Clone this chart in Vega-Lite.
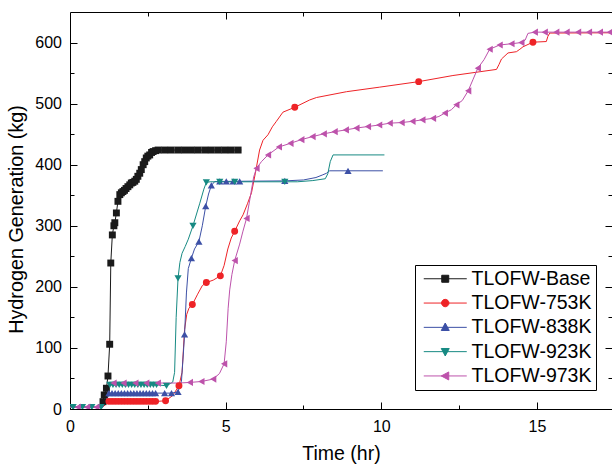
{
  "$schema": "https://vega.github.io/schema/vega-lite/v6.json",
  "width": 542,
  "height": 397,
  "autosize": {"type": "none"},
  "padding": {"left": 70, "top": 12, "right": 0, "bottom": 56},
  "background": "white",
  "config": {
    "view": {"stroke": null},
    "font": "Liberation Sans",
    "axis": {"grid": false, "domainColor": "black", "tickColor": "black", "labelColor": "black", "titleColor": "black", "labelFont": "Liberation Sans", "titleFont": "Liberation Sans", "titleFontWeight": "normal", "domainWidth": 1, "tickWidth": 1}
  },
  "datasets": {
    "curves": [
      {"series": "TLOFW-Base", "time": 0, "h2": 3}, {"series": "TLOFW-Base", "time": 1.0, "h2": 3}, {"series": "TLOFW-Base", "time": 1.06, "h2": 12}, {"series": "TLOFW-Base", "time": 1.1, "h2": 23}, {"series": "TLOFW-Base", "time": 1.17, "h2": 34}, {"series": "TLOFW-Base", "time": 1.22, "h2": 54}, {"series": "TLOFW-Base", "time": 1.275, "h2": 106}, {"series": "TLOFW-Base", "time": 1.31, "h2": 239}, {"series": "TLOFW-Base", "time": 1.36, "h2": 285}, {"series": "TLOFW-Base", "time": 1.41, "h2": 300}, {"series": "TLOFW-Base", "time": 1.44, "h2": 305}, {"series": "TLOFW-Base", "time": 1.49, "h2": 321}, {"series": "TLOFW-Base", "time": 1.54, "h2": 340}, {"series": "TLOFW-Base", "time": 1.6, "h2": 351}, {"series": "TLOFW-Base", "time": 1.7, "h2": 356}, {"series": "TLOFW-Base", "time": 1.86, "h2": 364}, {"series": "TLOFW-Base", "time": 1.97, "h2": 370}, {"series": "TLOFW-Base", "time": 2.08, "h2": 373}, {"series": "TLOFW-Base", "time": 2.18, "h2": 381}, {"series": "TLOFW-Base", "time": 2.29, "h2": 392}, {"series": "TLOFW-Base", "time": 2.35, "h2": 400}, {"series": "TLOFW-Base", "time": 2.45, "h2": 411}, {"series": "TLOFW-Base", "time": 2.56, "h2": 416}, {"series": "TLOFW-Base", "time": 2.67, "h2": 421.5}, {"series": "TLOFW-Base", "time": 2.83, "h2": 424}, {"series": "TLOFW-Base", "time": 5.5, "h2": 424},
      {"series": "TLOFW-753K", "time": 0, "h2": 3}, {"series": "TLOFW-753K", "time": 1.05, "h2": 3}, {"series": "TLOFW-753K", "time": 1.2, "h2": 10}, {"series": "TLOFW-753K", "time": 1.28, "h2": 12.5}, {"series": "TLOFW-753K", "time": 2.8, "h2": 12.5}, {"series": "TLOFW-753K", "time": 3.07, "h2": 13.5}, {"series": "TLOFW-753K", "time": 3.3, "h2": 22}, {"series": "TLOFW-753K", "time": 3.5, "h2": 38}, {"series": "TLOFW-753K", "time": 3.6, "h2": 60}, {"series": "TLOFW-753K", "time": 3.68, "h2": 130}, {"series": "TLOFW-753K", "time": 3.75, "h2": 155}, {"series": "TLOFW-753K", "time": 3.82, "h2": 165}, {"series": "TLOFW-753K", "time": 3.93, "h2": 171}, {"series": "TLOFW-753K", "time": 4.1, "h2": 188}, {"series": "TLOFW-753K", "time": 4.25, "h2": 202}, {"series": "TLOFW-753K", "time": 4.38, "h2": 207}, {"series": "TLOFW-753K", "time": 4.6, "h2": 211}, {"series": "TLOFW-753K", "time": 4.83, "h2": 218}, {"series": "TLOFW-753K", "time": 4.95, "h2": 235}, {"series": "TLOFW-753K", "time": 5.07, "h2": 262}, {"series": "TLOFW-753K", "time": 5.18, "h2": 280}, {"series": "TLOFW-753K", "time": 5.29, "h2": 291}, {"series": "TLOFW-753K", "time": 5.45, "h2": 308}, {"series": "TLOFW-753K", "time": 5.56, "h2": 318}, {"series": "TLOFW-753K", "time": 5.7, "h2": 336}, {"series": "TLOFW-753K", "time": 5.83, "h2": 354}, {"series": "TLOFW-753K", "time": 5.95, "h2": 385}, {"series": "TLOFW-753K", "time": 6.09, "h2": 424}, {"series": "TLOFW-753K", "time": 6.2, "h2": 440}, {"series": "TLOFW-753K", "time": 6.36, "h2": 449}, {"series": "TLOFW-753K", "time": 6.5, "h2": 462}, {"series": "TLOFW-753K", "time": 6.63, "h2": 471}, {"series": "TLOFW-753K", "time": 6.84, "h2": 486}, {"series": "TLOFW-753K", "time": 7.22, "h2": 494}, {"series": "TLOFW-753K", "time": 7.7, "h2": 506}, {"series": "TLOFW-753K", "time": 7.92, "h2": 510}, {"series": "TLOFW-753K", "time": 8.88, "h2": 519.5}, {"series": "TLOFW-753K", "time": 9.95, "h2": 527}, {"series": "TLOFW-753K", "time": 11.2, "h2": 536}, {"series": "TLOFW-753K", "time": 12.3, "h2": 546}, {"series": "TLOFW-753K", "time": 13.7, "h2": 556}, {"series": "TLOFW-753K", "time": 13.78, "h2": 564}, {"series": "TLOFW-753K", "time": 13.86, "h2": 573}, {"series": "TLOFW-753K", "time": 14.07, "h2": 583}, {"series": "TLOFW-753K", "time": 14.34, "h2": 585}, {"series": "TLOFW-753K", "time": 14.45, "h2": 589}, {"series": "TLOFW-753K", "time": 14.55, "h2": 593}, {"series": "TLOFW-753K", "time": 14.87, "h2": 600.6}, {"series": "TLOFW-753K", "time": 15.3, "h2": 601.6}, {"series": "TLOFW-753K", "time": 15.35, "h2": 610}, {"series": "TLOFW-753K", "time": 15.41, "h2": 615.5}, {"series": "TLOFW-753K", "time": 17.41, "h2": 616},
      {"series": "TLOFW-838K", "time": 0, "h2": 3}, {"series": "TLOFW-838K", "time": 1.05, "h2": 3}, {"series": "TLOFW-838K", "time": 1.2, "h2": 18}, {"series": "TLOFW-838K", "time": 1.28, "h2": 26}, {"series": "TLOFW-838K", "time": 3.26, "h2": 26}, {"series": "TLOFW-838K", "time": 3.47, "h2": 28}, {"series": "TLOFW-838K", "time": 3.58, "h2": 45}, {"series": "TLOFW-838K", "time": 3.64, "h2": 90}, {"series": "TLOFW-838K", "time": 3.68, "h2": 122}, {"series": "TLOFW-838K", "time": 3.74, "h2": 190}, {"series": "TLOFW-838K", "time": 3.8, "h2": 230}, {"series": "TLOFW-838K", "time": 3.9, "h2": 247}, {"series": "TLOFW-838K", "time": 4.0, "h2": 262}, {"series": "TLOFW-838K", "time": 4.14, "h2": 274}, {"series": "TLOFW-838K", "time": 4.25, "h2": 300}, {"series": "TLOFW-838K", "time": 4.36, "h2": 332}, {"series": "TLOFW-838K", "time": 4.45, "h2": 352}, {"series": "TLOFW-838K", "time": 4.54, "h2": 366}, {"series": "TLOFW-838K", "time": 4.65, "h2": 372.5}, {"series": "TLOFW-838K", "time": 6.9, "h2": 373.5}, {"series": "TLOFW-838K", "time": 7.5, "h2": 375}, {"series": "TLOFW-838K", "time": 7.9, "h2": 379}, {"series": "TLOFW-838K", "time": 8.1, "h2": 383}, {"series": "TLOFW-838K", "time": 8.24, "h2": 386}, {"series": "TLOFW-838K", "time": 8.34, "h2": 390}, {"series": "TLOFW-838K", "time": 10.05, "h2": 390},
      {"series": "TLOFW-923K", "time": 0, "h2": 3}, {"series": "TLOFW-923K", "time": 1.05, "h2": 3}, {"series": "TLOFW-923K", "time": 1.2, "h2": 30}, {"series": "TLOFW-923K", "time": 1.28, "h2": 39.5}, {"series": "TLOFW-923K", "time": 2.8, "h2": 39.5}, {"series": "TLOFW-923K", "time": 3.1, "h2": 38}, {"series": "TLOFW-923K", "time": 3.3, "h2": 44}, {"series": "TLOFW-923K", "time": 3.36, "h2": 60}, {"series": "TLOFW-923K", "time": 3.41, "h2": 150}, {"series": "TLOFW-923K", "time": 3.47, "h2": 214}, {"series": "TLOFW-923K", "time": 3.53, "h2": 240}, {"series": "TLOFW-923K", "time": 3.6, "h2": 255}, {"series": "TLOFW-923K", "time": 3.7, "h2": 266}, {"series": "TLOFW-923K", "time": 3.8, "h2": 278}, {"series": "TLOFW-923K", "time": 3.95, "h2": 300}, {"series": "TLOFW-923K", "time": 4.17, "h2": 337}, {"series": "TLOFW-923K", "time": 4.3, "h2": 360}, {"series": "TLOFW-923K", "time": 4.38, "h2": 371}, {"series": "TLOFW-923K", "time": 4.5, "h2": 372}, {"series": "TLOFW-923K", "time": 7.3, "h2": 372}, {"series": "TLOFW-923K", "time": 7.8, "h2": 374}, {"series": "TLOFW-923K", "time": 8.2, "h2": 377}, {"series": "TLOFW-923K", "time": 8.28, "h2": 385}, {"series": "TLOFW-923K", "time": 8.36, "h2": 405}, {"series": "TLOFW-923K", "time": 8.45, "h2": 416}, {"series": "TLOFW-923K", "time": 10.1, "h2": 416},
      {"series": "TLOFW-973K", "time": 0, "h2": 3}, {"series": "TLOFW-973K", "time": 1.05, "h2": 3}, {"series": "TLOFW-973K", "time": 1.2, "h2": 32}, {"series": "TLOFW-973K", "time": 1.3, "h2": 42.5}, {"series": "TLOFW-973K", "time": 3.5, "h2": 42.5}, {"series": "TLOFW-973K", "time": 3.85, "h2": 43.5}, {"series": "TLOFW-973K", "time": 4.22, "h2": 45}, {"series": "TLOFW-973K", "time": 4.6, "h2": 49}, {"series": "TLOFW-973K", "time": 4.8, "h2": 58}, {"series": "TLOFW-973K", "time": 4.95, "h2": 74}, {"series": "TLOFW-973K", "time": 5.02, "h2": 110}, {"series": "TLOFW-973K", "time": 5.08, "h2": 165}, {"series": "TLOFW-973K", "time": 5.13, "h2": 195}, {"series": "TLOFW-973K", "time": 5.2, "h2": 220}, {"series": "TLOFW-973K", "time": 5.29, "h2": 243}, {"series": "TLOFW-973K", "time": 5.45, "h2": 270}, {"series": "TLOFW-973K", "time": 5.55, "h2": 290}, {"series": "TLOFW-973K", "time": 5.67, "h2": 312}, {"series": "TLOFW-973K", "time": 5.8, "h2": 350}, {"series": "TLOFW-973K", "time": 5.9, "h2": 380}, {"series": "TLOFW-973K", "time": 5.99, "h2": 394}, {"series": "TLOFW-973K", "time": 6.15, "h2": 405}, {"series": "TLOFW-973K", "time": 6.36, "h2": 416}, {"series": "TLOFW-973K", "time": 6.71, "h2": 429}, {"series": "TLOFW-973K", "time": 7.08, "h2": 435}, {"series": "TLOFW-973K", "time": 7.43, "h2": 441}, {"series": "TLOFW-973K", "time": 7.79, "h2": 446}, {"series": "TLOFW-973K", "time": 8.15, "h2": 450.5}, {"series": "TLOFW-973K", "time": 8.5, "h2": 454}, {"series": "TLOFW-973K", "time": 8.86, "h2": 457}, {"series": "TLOFW-973K", "time": 9.2, "h2": 460}, {"series": "TLOFW-973K", "time": 9.57, "h2": 462.5}, {"series": "TLOFW-973K", "time": 9.93, "h2": 465}, {"series": "TLOFW-973K", "time": 10.27, "h2": 468}, {"series": "TLOFW-973K", "time": 10.65, "h2": 469}, {"series": "TLOFW-973K", "time": 11.0, "h2": 471}, {"series": "TLOFW-973K", "time": 11.32, "h2": 473.5}, {"series": "TLOFW-973K", "time": 11.66, "h2": 476}, {"series": "TLOFW-973K", "time": 11.85, "h2": 479}, {"series": "TLOFW-973K", "time": 12.04, "h2": 484.5}, {"series": "TLOFW-973K", "time": 12.25, "h2": 490}, {"series": "TLOFW-973K", "time": 12.41, "h2": 498}, {"series": "TLOFW-973K", "time": 12.6, "h2": 505}, {"series": "TLOFW-973K", "time": 12.79, "h2": 521}, {"series": "TLOFW-973K", "time": 12.95, "h2": 540}, {"series": "TLOFW-973K", "time": 13.1, "h2": 558}, {"series": "TLOFW-973K", "time": 13.3, "h2": 572}, {"series": "TLOFW-973K", "time": 13.48, "h2": 589}, {"series": "TLOFW-973K", "time": 13.8, "h2": 596}, {"series": "TLOFW-973K", "time": 14.18, "h2": 598}, {"series": "TLOFW-973K", "time": 14.5, "h2": 600}, {"series": "TLOFW-973K", "time": 14.62, "h2": 604}, {"series": "TLOFW-973K", "time": 14.71, "h2": 615}, {"series": "TLOFW-973K", "time": 14.93, "h2": 617}, {"series": "TLOFW-973K", "time": 17.41, "h2": 617}
    ],
    "markers": [
      {"series": "TLOFW-Base", "time": 1.06, "h2": 12}, {"series": "TLOFW-Base", "time": 1.1, "h2": 23}, {"series": "TLOFW-Base", "time": 1.17, "h2": 34}, {"series": "TLOFW-Base", "time": 1.22, "h2": 54}, {"series": "TLOFW-Base", "time": 1.275, "h2": 106}, {"series": "TLOFW-Base", "time": 1.31, "h2": 239}, {"series": "TLOFW-Base", "time": 1.36, "h2": 285}, {"series": "TLOFW-Base", "time": 1.41, "h2": 300}, {"series": "TLOFW-Base", "time": 1.44, "h2": 305}, {"series": "TLOFW-Base", "time": 1.49, "h2": 321}, {"series": "TLOFW-Base", "time": 1.54, "h2": 340}, {"series": "TLOFW-Base", "time": 1.6, "h2": 351}, {"series": "TLOFW-Base", "time": 1.65, "h2": 354}, {"series": "TLOFW-Base", "time": 1.7, "h2": 356}, {"series": "TLOFW-Base", "time": 1.75, "h2": 358}, {"series": "TLOFW-Base", "time": 1.8, "h2": 361}, {"series": "TLOFW-Base", "time": 1.86, "h2": 364}, {"series": "TLOFW-Base", "time": 1.92, "h2": 367}, {"series": "TLOFW-Base", "time": 1.97, "h2": 370}, {"series": "TLOFW-Base", "time": 2.02, "h2": 371}, {"series": "TLOFW-Base", "time": 2.08, "h2": 373}, {"series": "TLOFW-Base", "time": 2.13, "h2": 376}, {"series": "TLOFW-Base", "time": 2.18, "h2": 381}, {"series": "TLOFW-Base", "time": 2.24, "h2": 386}, {"series": "TLOFW-Base", "time": 2.29, "h2": 392}, {"series": "TLOFW-Base", "time": 2.35, "h2": 400}, {"series": "TLOFW-Base", "time": 2.4, "h2": 405}, {"series": "TLOFW-Base", "time": 2.45, "h2": 411}, {"series": "TLOFW-Base", "time": 2.5, "h2": 414}, {"series": "TLOFW-Base", "time": 2.56, "h2": 416}, {"series": "TLOFW-Base", "time": 2.62, "h2": 420}, {"series": "TLOFW-Base", "time": 2.67, "h2": 421.5}, {"series": "TLOFW-Base", "time": 2.75, "h2": 423}, {"series": "TLOFW-Base", "time": 2.83, "h2": 424}, {"series": "TLOFW-Base", "time": 3.04, "h2": 424}, {"series": "TLOFW-Base", "time": 3.25, "h2": 424}, {"series": "TLOFW-Base", "time": 3.47, "h2": 424}, {"series": "TLOFW-Base", "time": 3.68, "h2": 424}, {"series": "TLOFW-Base", "time": 3.9, "h2": 424}, {"series": "TLOFW-Base", "time": 4.11, "h2": 424}, {"series": "TLOFW-Base", "time": 4.33, "h2": 424}, {"series": "TLOFW-Base", "time": 4.54, "h2": 424}, {"series": "TLOFW-Base", "time": 4.76, "h2": 424}, {"series": "TLOFW-Base", "time": 4.97, "h2": 424}, {"series": "TLOFW-Base", "time": 5.18, "h2": 424}, {"series": "TLOFW-Base", "time": 5.4, "h2": 424},
      {"series": "TLOFW-753K", "time": 1.25, "h2": 12.5}, {"series": "TLOFW-753K", "time": 1.35, "h2": 12.5}, {"series": "TLOFW-753K", "time": 1.45, "h2": 12.5}, {"series": "TLOFW-753K", "time": 1.55, "h2": 12.5}, {"series": "TLOFW-753K", "time": 1.65, "h2": 12.5}, {"series": "TLOFW-753K", "time": 1.75, "h2": 12.5}, {"series": "TLOFW-753K", "time": 1.85, "h2": 12.5}, {"series": "TLOFW-753K", "time": 1.95, "h2": 12.5}, {"series": "TLOFW-753K", "time": 2.05, "h2": 12.5}, {"series": "TLOFW-753K", "time": 2.15, "h2": 12.5}, {"series": "TLOFW-753K", "time": 2.25, "h2": 12.5}, {"series": "TLOFW-753K", "time": 2.35, "h2": 12.5}, {"series": "TLOFW-753K", "time": 2.45, "h2": 12.5}, {"series": "TLOFW-753K", "time": 2.55, "h2": 12.5}, {"series": "TLOFW-753K", "time": 2.65, "h2": 12.5}, {"series": "TLOFW-753K", "time": 2.75, "h2": 12.5}, {"series": "TLOFW-753K", "time": 3.07, "h2": 13.5}, {"series": "TLOFW-753K", "time": 3.5, "h2": 38}, {"series": "TLOFW-753K", "time": 3.93, "h2": 171}, {"series": "TLOFW-753K", "time": 4.38, "h2": 207}, {"series": "TLOFW-753K", "time": 4.83, "h2": 218}, {"series": "TLOFW-753K", "time": 5.29, "h2": 291}, {"series": "TLOFW-753K", "time": 7.22, "h2": 494}, {"series": "TLOFW-753K", "time": 11.2, "h2": 536}, {"series": "TLOFW-753K", "time": 14.87, "h2": 600.6},
      {"series": "TLOFW-838K", "time": 1.25, "h2": 26}, {"series": "TLOFW-838K", "time": 1.35, "h2": 26}, {"series": "TLOFW-838K", "time": 1.45, "h2": 26}, {"series": "TLOFW-838K", "time": 1.55, "h2": 26}, {"series": "TLOFW-838K", "time": 1.65, "h2": 26}, {"series": "TLOFW-838K", "time": 1.75, "h2": 26}, {"series": "TLOFW-838K", "time": 1.85, "h2": 26}, {"series": "TLOFW-838K", "time": 1.95, "h2": 26}, {"series": "TLOFW-838K", "time": 2.05, "h2": 26}, {"series": "TLOFW-838K", "time": 2.15, "h2": 26}, {"series": "TLOFW-838K", "time": 2.25, "h2": 26}, {"series": "TLOFW-838K", "time": 2.35, "h2": 26}, {"series": "TLOFW-838K", "time": 2.45, "h2": 26}, {"series": "TLOFW-838K", "time": 2.55, "h2": 26}, {"series": "TLOFW-838K", "time": 2.65, "h2": 26}, {"series": "TLOFW-838K", "time": 2.75, "h2": 26}, {"series": "TLOFW-838K", "time": 3.04, "h2": 26}, {"series": "TLOFW-838K", "time": 3.26, "h2": 26}, {"series": "TLOFW-838K", "time": 3.47, "h2": 28}, {"series": "TLOFW-838K", "time": 3.68, "h2": 122}, {"series": "TLOFW-838K", "time": 3.9, "h2": 247}, {"series": "TLOFW-838K", "time": 4.14, "h2": 274}, {"series": "TLOFW-838K", "time": 4.36, "h2": 332}, {"series": "TLOFW-838K", "time": 4.54, "h2": 366}, {"series": "TLOFW-838K", "time": 4.81, "h2": 372.5}, {"series": "TLOFW-838K", "time": 5.02, "h2": 372.5}, {"series": "TLOFW-838K", "time": 5.24, "h2": 372.5}, {"series": "TLOFW-838K", "time": 5.45, "h2": 372.5}, {"series": "TLOFW-838K", "time": 6.9, "h2": 373.5}, {"series": "TLOFW-838K", "time": 8.93, "h2": 390},
      {"series": "TLOFW-923K", "time": 0.1, "h2": 3}, {"series": "TLOFW-923K", "time": 0.4, "h2": 3}, {"series": "TLOFW-923K", "time": 0.7, "h2": 3}, {"series": "TLOFW-923K", "time": 1.0, "h2": 3}, {"series": "TLOFW-923K", "time": 1.28, "h2": 39.5}, {"series": "TLOFW-923K", "time": 1.38, "h2": 39.5}, {"series": "TLOFW-923K", "time": 1.48, "h2": 39.5}, {"series": "TLOFW-923K", "time": 1.58, "h2": 39.5}, {"series": "TLOFW-923K", "time": 1.68, "h2": 39.5}, {"series": "TLOFW-923K", "time": 1.78, "h2": 39.5}, {"series": "TLOFW-923K", "time": 1.88, "h2": 39.5}, {"series": "TLOFW-923K", "time": 1.98, "h2": 39.5}, {"series": "TLOFW-923K", "time": 2.08, "h2": 39.5}, {"series": "TLOFW-923K", "time": 2.18, "h2": 39.5}, {"series": "TLOFW-923K", "time": 2.28, "h2": 39.5}, {"series": "TLOFW-923K", "time": 2.38, "h2": 39.5}, {"series": "TLOFW-923K", "time": 2.48, "h2": 39.5}, {"series": "TLOFW-923K", "time": 2.58, "h2": 39.5}, {"series": "TLOFW-923K", "time": 2.68, "h2": 39.5}, {"series": "TLOFW-923K", "time": 2.78, "h2": 39.5}, {"series": "TLOFW-923K", "time": 3.1, "h2": 38}, {"series": "TLOFW-923K", "time": 3.47, "h2": 214}, {"series": "TLOFW-923K", "time": 3.95, "h2": 300}, {"series": "TLOFW-923K", "time": 4.38, "h2": 371}, {"series": "TLOFW-923K", "time": 4.81, "h2": 372}, {"series": "TLOFW-923K", "time": 5.29, "h2": 372}, {"series": "TLOFW-923K", "time": 6.9, "h2": 372},
      {"series": "TLOFW-973K", "time": 0.25, "h2": 3}, {"series": "TLOFW-973K", "time": 0.55, "h2": 3}, {"series": "TLOFW-973K", "time": 0.85, "h2": 3}, {"series": "TLOFW-973K", "time": 1.4, "h2": 42.5}, {"series": "TLOFW-973K", "time": 1.72, "h2": 42.5}, {"series": "TLOFW-973K", "time": 2.1, "h2": 42.5}, {"series": "TLOFW-973K", "time": 2.45, "h2": 42.5}, {"series": "TLOFW-973K", "time": 2.82, "h2": 42.5}, {"series": "TLOFW-973K", "time": 3.85, "h2": 43.5}, {"series": "TLOFW-973K", "time": 4.22, "h2": 45}, {"series": "TLOFW-973K", "time": 4.6, "h2": 49}, {"series": "TLOFW-973K", "time": 4.95, "h2": 74}, {"series": "TLOFW-973K", "time": 5.29, "h2": 243}, {"series": "TLOFW-973K", "time": 5.67, "h2": 312}, {"series": "TLOFW-973K", "time": 5.99, "h2": 394}, {"series": "TLOFW-973K", "time": 6.36, "h2": 416}, {"series": "TLOFW-973K", "time": 6.71, "h2": 429}, {"series": "TLOFW-973K", "time": 7.08, "h2": 435}, {"series": "TLOFW-973K", "time": 7.43, "h2": 441}, {"series": "TLOFW-973K", "time": 7.79, "h2": 446}, {"series": "TLOFW-973K", "time": 8.15, "h2": 450.5}, {"series": "TLOFW-973K", "time": 8.5, "h2": 454}, {"series": "TLOFW-973K", "time": 8.86, "h2": 457}, {"series": "TLOFW-973K", "time": 9.2, "h2": 460}, {"series": "TLOFW-973K", "time": 9.57, "h2": 462.5}, {"series": "TLOFW-973K", "time": 9.93, "h2": 465}, {"series": "TLOFW-973K", "time": 10.27, "h2": 468}, {"series": "TLOFW-973K", "time": 10.65, "h2": 469}, {"series": "TLOFW-973K", "time": 11.0, "h2": 471}, {"series": "TLOFW-973K", "time": 11.32, "h2": 473.5}, {"series": "TLOFW-973K", "time": 11.66, "h2": 476}, {"series": "TLOFW-973K", "time": 12.04, "h2": 484.5}, {"series": "TLOFW-973K", "time": 12.41, "h2": 498}, {"series": "TLOFW-973K", "time": 12.79, "h2": 521}, {"series": "TLOFW-973K", "time": 13.1, "h2": 558}, {"series": "TLOFW-973K", "time": 13.48, "h2": 589}, {"series": "TLOFW-973K", "time": 13.8, "h2": 596}, {"series": "TLOFW-973K", "time": 14.18, "h2": 598}, {"series": "TLOFW-973K", "time": 14.5, "h2": 600}, {"series": "TLOFW-973K", "time": 14.93, "h2": 617}, {"series": "TLOFW-973K", "time": 15.25, "h2": 617}, {"series": "TLOFW-973K", "time": 15.62, "h2": 617}, {"series": "TLOFW-973K", "time": 15.95, "h2": 617}, {"series": "TLOFW-973K", "time": 16.32, "h2": 617}, {"series": "TLOFW-973K", "time": 16.67, "h2": 617}, {"series": "TLOFW-973K", "time": 17.02, "h2": 617}, {"series": "TLOFW-973K", "time": 17.34, "h2": 617}
    ]
  },
  "encoding": {
    "color": {"field": "series", "type": "nominal",
      "scale": {"domain": ["TLOFW-Base", "TLOFW-753K", "TLOFW-838K", "TLOFW-923K", "TLOFW-973K"], "range": ["#1a1a1a", "#ee2327", "#3c50a6", "#178a83", "#bd52ab"]},
      "legend": {"title": null, "orient": "none", "legendX": 345, "legendY": 253, "strokeColor": "black", "fillColor": "white", "padding": 4, "cornerRadius": 0, "labelFontSize": 19.5, "labelColor": "black", "labelFont": "Liberation Sans", "labelLimit": 300, "symbolSize": 196, "labelOffset": 33, "rowPadding": 3.3, "symbolOpacity": 1, "symbolStrokeWidth": 1}
    }
  },
  "layer": [
    {
      "data": {"name": "curves"},
      "mark": {"type": "line", "strokeWidth": 1, "clip": true},
      "encoding": {
        "x": {"field": "time", "type": "quantitative", "scale": {"domain": [0, 17.41], "nice": false, "zero": false},
          "axis": {"orient": "bottom", "values": [0, 2.5, 5, 7.5, 10, 12.5, 15], "labelExpr": "datum.value % 5 === 0 ? format(datum.value, 'd') : ''",
            "tickSize": {"condition": {"test": "datum.value % 5 !== 0", "value": -4}, "value": -7},
            "labelPadding": 16, "labelFontSize": 16, "labelFlush": false, "title": "Time (hr)", "titleFontSize": 19.5, "titleY": 50.5, "titleBaseline": "alphabetic"}},
        "y": {"field": "h2", "type": "quantitative", "scale": {"domain": [0, 650], "nice": false, "zero": false},
          "axis": {"orient": "left", "values": [0, 50, 100, 150, 200, 250, 300, 350, 400, 450, 500, 550, 600], "labelExpr": "datum.value % 100 === 0 ? format(datum.value, 'd') : ''",
            "tickSize": {"condition": {"test": "datum.value % 100 !== 0", "value": -4}, "value": -7},
            "labelPadding": 15.5, "labelFontSize": 16, "labelFlush": false, "title": "Hydrogen Generation (kg)", "titleFontSize": 19.8, "titleX": -48, "titleY": 207, "titleBaseline": "alphabetic", "titleAngle": -90}}
      }
    },
    {
      "data": {"name": "markers"},
      "transform": [{"filter": "datum.series === 'TLOFW-Base'"}],
      "mark": {"type": "point", "shape": "square", "filled": true, "opacity": 1, "size": 48, "clip": true},
      "encoding": {
        "x": {"field": "time", "type": "quantitative",
          "axis": {"orient": "top", "values": [2.5, 5, 7.5, 10, 12.5, 15], "labels": false, "title": null,
            "tickSize": {"condition": {"test": "datum.value % 5 !== 0", "value": -4}, "value": -7}}},
        "y": {"field": "h2", "type": "quantitative",
          "axis": {"orient": "right", "values": [50, 100, 150, 200, 250, 300, 350, 400, 450, 500, 550, 600], "labels": false, "title": null, "domain": false,
            "tickSize": {"condition": {"test": "datum.value % 100 !== 0", "value": -4}, "value": -7}}}
      }
    },
    {
      "data": {"name": "markers"},
      "transform": [{"filter": "datum.series === 'TLOFW-753K'"}],
      "mark": {"type": "point", "shape": "circle", "filled": true, "opacity": 1, "size": 48, "clip": true},
      "encoding": {
        "x": {"field": "time", "type": "quantitative", "axis": null},
        "y": {"field": "h2", "type": "quantitative", "axis": null}
      }
    },
    {
      "data": {"name": "markers"},
      "transform": [{"filter": "datum.series === 'TLOFW-838K'"}],
      "mark": {"type": "point", "shape": "triangle-up", "filled": true, "opacity": 1, "size": 52, "clip": true},
      "encoding": {
        "x": {"field": "time", "type": "quantitative", "axis": null},
        "y": {"field": "h2", "type": "quantitative", "axis": null}
      }
    },
    {
      "data": {"name": "markers"},
      "transform": [{"filter": "datum.series === 'TLOFW-923K'"}],
      "mark": {"type": "point", "shape": "triangle-down", "filled": true, "opacity": 1, "size": 52, "clip": true},
      "encoding": {
        "x": {"field": "time", "type": "quantitative", "axis": null},
        "y": {"field": "h2", "type": "quantitative", "axis": null}
      }
    },
    {
      "data": {"name": "markers"},
      "transform": [{"filter": "datum.series === 'TLOFW-973K'"}],
      "mark": {"type": "point", "shape": "triangle-left", "filled": true, "opacity": 1, "size": 52, "clip": true},
      "encoding": {
        "x": {"field": "time", "type": "quantitative", "axis": null},
        "y": {"field": "h2", "type": "quantitative", "axis": null}
      }
    },
    {
      "data": {"name": "markers"},
      "transform": [{"filter": "datum.h2 < 0"}],
      "mark": {"type": "point", "filled": false, "opacity": 1, "strokeWidth": 1},
      "encoding": {
        "shape": {"field": "series", "type": "nominal",
          "scale": {"domain": ["TLOFW-Base", "TLOFW-753K", "TLOFW-838K", "TLOFW-923K", "TLOFW-973K"], "range": ["M-0.714,0H5.43M1.857,-0.5H2.857V0.5H1.857Z", "M-0.714,0H5.43M2.887,0A0.53,0.53,0,1,1,1.827,0A0.53,0.53,0,1,1,2.887,0Z", "M-0.714,0H5.43M2.357,-0.62L2.927,0.45L1.787,0.45Z", "M-0.714,0H5.43M2.357,0.62L2.927,-0.45L1.787,-0.45Z", "M-0.714,0H5.43M1.787,0L2.857,-0.57L2.857,0.57Z"]},
          "legend": null}
      }
    }
  ],
  "resolve": {"axis": {"x": "independent", "y": "independent"}}
}
